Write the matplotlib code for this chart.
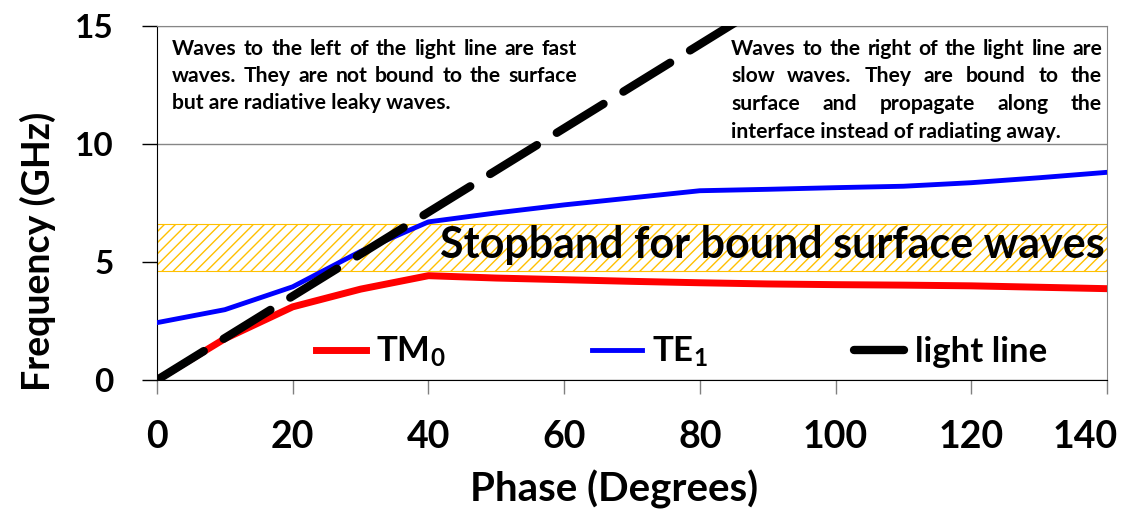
import matplotlib
matplotlib.use('Agg')
import matplotlib.pyplot as plt
from matplotlib.transforms import ScaledTranslation

# values
phase = [0, 10, 20, 30, 40, 50, 60, 70, 80, 90, 100, 110, 120, 130, 140]
tm0 = [0, 1.75, 3.1, 3.85, 4.42, 4.32, 4.25, 4.18, 4.12, 4.07, 4.04, 4.02, 3.99, 3.93, 3.87]
te1 = [2.43, 2.98, 3.95, 5.45, 6.7, 7.08, 7.42, 7.72, 8.02, 8.08, 8.15, 8.21, 8.36, 8.57, 8.8]
light_phase = [0, 90]
light_freq = [0, 16]
stopband = [4.6, 6.6]
xticks = [0, 20, 40, 60, 80, 100, 120, 140]
yticks = [0, 5, 10, 15]

left_note = ["Waves to the left of the light line are fast",
             "waves. They are not bound to the surface",
             "but are radiative leaky waves."]
right_note = ["Waves to the right of the light line are",
              "slow waves. They are bound to the",
              "surface and propagate along the",
              "interface instead of radiating away."]

W, H = 1126, 512
plt.rcParams['font.family'] = ['Lato', 'DejaVu Sans']
plt.rcParams['font.weight'] = 'bold'
plt.rcParams['mathtext.fontset'] = 'custom'
plt.rcParams['mathtext.rm'] = 'Lato:bold'
plt.rcParams['mathtext.it'] = 'Lato:bold'
plt.rcParams['mathtext.bf'] = 'Lato:bold'

fig = plt.figure(figsize=(W / 100, H / 100), dpi=100)
ax = fig.add_axes([157 / W, 1 - 380 / H, 950 / W, 354 / H])

# stopband
ax.axhspan(stopband[0], stopband[1], facecolor='white', edgecolor='#FFC000',
           hatch='///', lw=0.8, zorder=1.5)

ax.plot(phase, tm0, color='red', lw=5, label=r'TM$_{0}$', zorder=3)
ax.plot(phase, te1, color='blue', lw=3.5, label=r'TE$_{1}$', zorder=3)
ax.plot(light_phase, light_freq, color='black', lw=6, linestyle=(0, (6.6, 2.8)),
        dash_capstyle='round', label='light line', zorder=4)

ax.text(90.7, 5.17, 'Stopband for bound surface waves', ha='center', va='baseline',
        fontsize=31, fontweight='bold', zorder=5)

ax.set_xlim(0, 140)
ax.set_ylim(0, 15)
ax.set_xticks(xticks, labels=[str(v) for v in xticks], fontsize=27, fontweight='bold')
ax.set_yticks(yticks, labels=[str(v) for v in yticks], fontsize=24, fontweight='bold')
ax.tick_params(axis='y', length=11, pad=20, width=1)
ax.tick_params(axis='x', length=10, pad=19, width=1, color='#808080')
last = ax.get_xticklabels()[-1]
last.set_transform(last.get_transform() + ScaledTranslation(-0.22, 0, fig.dpi_scale_trans))

ax.yaxis.grid(True, color='#868686', lw=1)
ax.set_axisbelow(True)
for side in ['top', 'right']:
    ax.spines[side].set_color('#868686')
for side in ['left', 'bottom']:
    ax.spines[side].set_color('black')

ax.set_xlabel('Phase (Degrees)', fontsize=29, fontweight='bold', va='baseline')
ax.xaxis.set_label_coords(0.481, -0.343)
ax.set_ylabel('Frequency (GHz)', fontsize=27, fontweight='bold', va='baseline')
ax.yaxis.set_label_coords(-0.1126, 0.363)

ax.legend(ncol=3, loc='center', bbox_to_anchor=(0.552, 0.079), frameon=False,
          fontsize=25, handlelength=1.45, columnspacing=4.2, handletextpad=0.3)


def put_note(lines, x0, x1, y0, dy, size):
    # spread words so each line but the last fills x0..x1 (pixels)
    r = fig.canvas.get_renderer()
    for i, line in enumerate(lines):
        yf = 1 - (y0 + i * dy) / H
        if i == len(lines) - 1:
            fig.text(x0 / W, yf, line, fontsize=size, va='baseline')
            continue
        words = line.split()
        texts = [fig.text(0, yf, w, fontsize=size, va='baseline') for w in words]
        widths = [t.get_window_extent(r).width for t in texts]
        gap = (x1 - x0 - sum(widths)) / (len(words) - 1)
        x = x0
        for t, wd in zip(texts, widths):
            t.set_x(x / W)
            x += wd + gap


put_note(left_note, 172, 577, 55, 26.8, 15.2)
put_note(right_note, 731, 1102, 55, 27.5, 15.2)

fig.savefig('out.png', dpi=100)
